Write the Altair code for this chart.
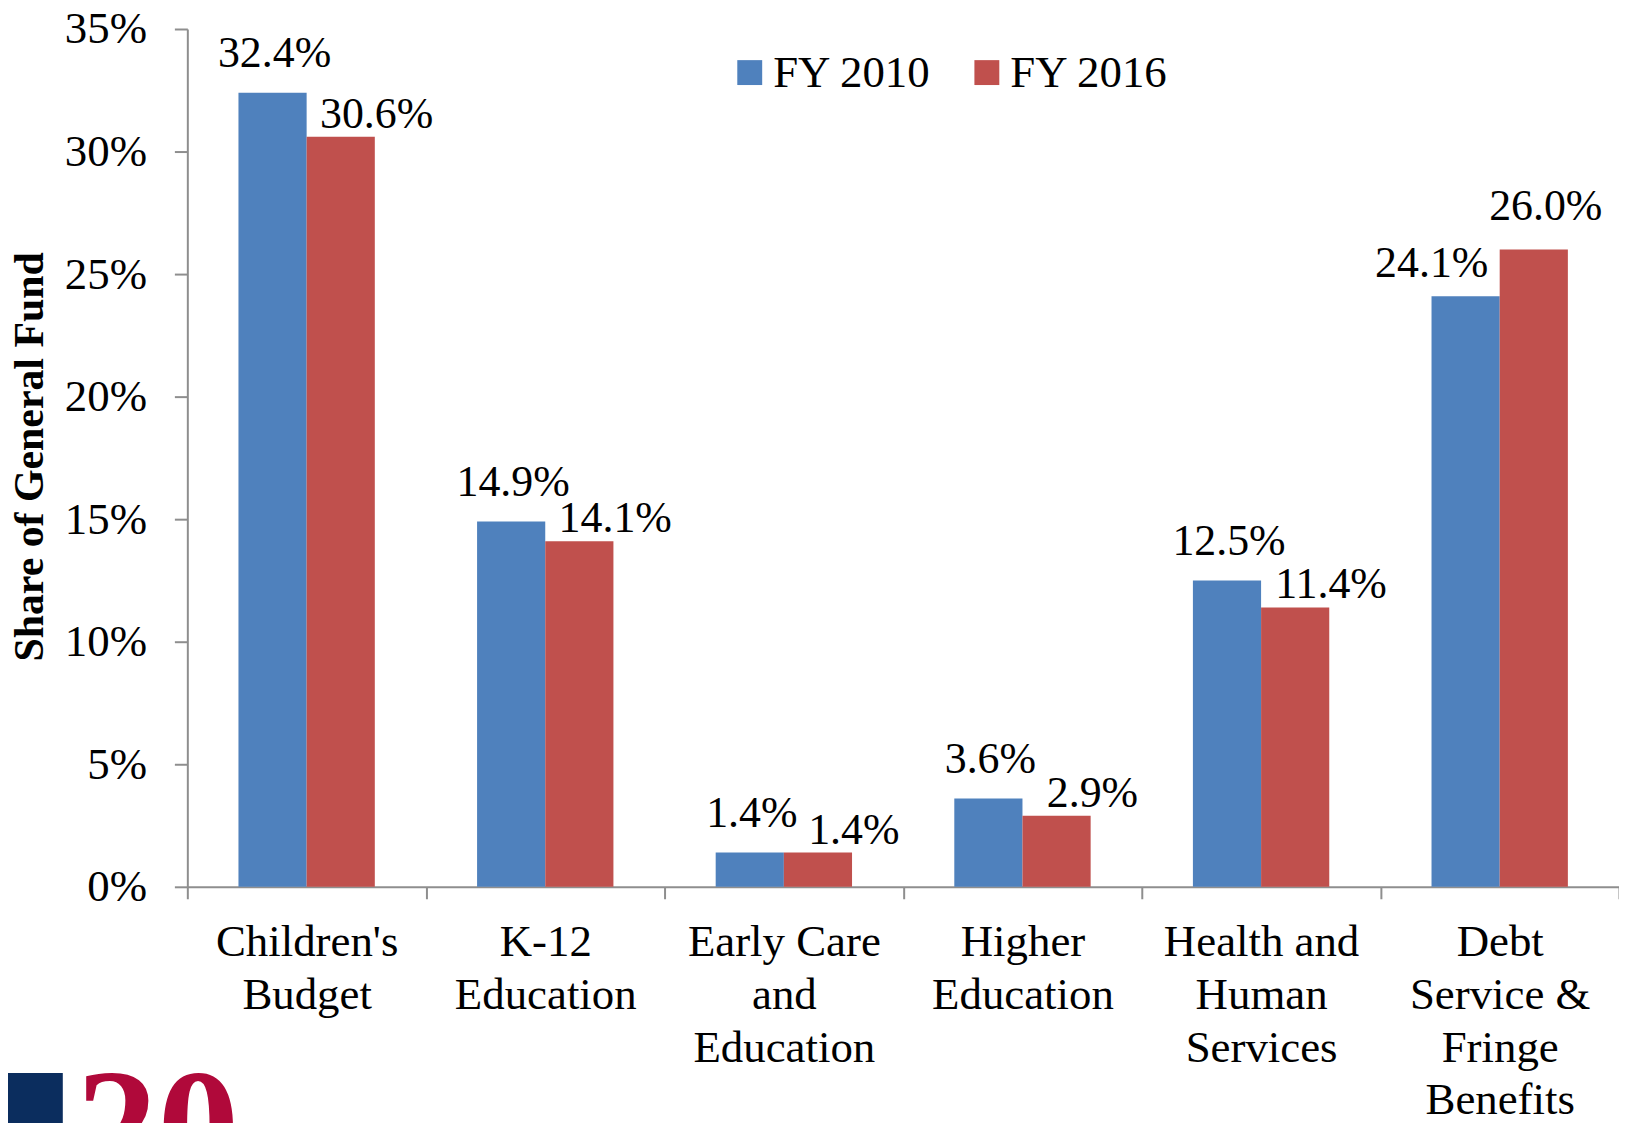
import altair as alt
import pandas as pd

# ---- data ----
categories = [
    "Children's\nBudget",
    "K-12\nEducation",
    "Early Care\nand\nEducation",
    "Higher\nEducation",
    "Health and\nHuman\nServices",
    "Debt\nService &\nFringe\nBenefits",
]
series = ["FY 2010", "FY 2016"]
fy2010 = [32.4, 14.9, 1.4, 3.6, 12.5, 24.1]
fy2016 = [30.6, 14.1, 1.4, 2.9, 11.4, 26.0]
y_ticks = [0, 5, 10, 15, 20, 25, 30, 35]
colors = ["#4F81BD", "#C0504D"]
logo_text = ["20"]

rows = []
for c, a, b in zip(categories, fy2010, fy2016):
    lead = b > a
    rows.append({"category": c, "series": series[0], "value": a, "red_leads": lead})
    rows.append({"category": c, "series": series[1], "value": b, "red_leads": lead})
df = pd.DataFrame(rows)

FONT = "Liberation Serif"
GRAY = "#8E8E8E"
W, H = 1437, 861

base = alt.Chart(df).transform_calculate(
    label="format(datum.value, '.1f') + '%'"
).encode(
    x=alt.X(
        "category:N",
        sort=categories,
        scale=alt.Scale(paddingInner=0, paddingOuter=0),
        axis=alt.Axis(
            title=None,
            labelExpr="split(datum.label, '\\n')",
            labelFont=FONT,
            labelFontSize=45,
            labelLineHeight=53,
            labelColor="black",
            labelPadding=21,
            labelBaseline="top",
            labelAngle=0,
            labelAlign="center",
            labelLimit=0,
            labelOverlap=False,
            tickSize=12,
            tickBand="extent",
            tickColor=GRAY,
            tickWidth=2,
            domainColor=GRAY,
            domainWidth=2,
            grid=False,
        ),
    ),
    xOffset=alt.XOffset(
        "series:N", sort=series, scale=alt.Scale(paddingOuter=0.75, paddingInner=0)
    ),
    y=alt.Y(
        "value:Q",
        scale=alt.Scale(domain=[0, 35], nice=False, zero=True),
        axis=alt.Axis(
            values=y_ticks,
            labelExpr="datum.value + '%'",
            labelFont=FONT,
            labelFontSize=45,
            labelColor="black",
            labelPadding=28,
            labelBaseline="middle",
            tickSize=13,
            tickColor=GRAY,
            tickWidth=2,
            domainColor=GRAY,
            domainWidth=2,
            grid=False,
            title="Share of General Fund",
            titleFont=FONT,
            titleFontSize=42,
            titleFontWeight="bold",
            titleColor="black",
            titleAngle=270,
            titleX=-145,
            titleY=429,
            titleAlign="center",
            titleBaseline="alphabetic",
        ),
    ),
)

bars = base.mark_bar().encode(
    color=alt.Color(
        "series:N",
        scale=alt.Scale(domain=series, range=colors),
        legend=alt.Legend(
            title=None,
            orient="none",
            legendX=542,
            legendY=21,
            direction="horizontal",
            symbolType="square",
            symbolSize=625,
            symbolStrokeWidth=0,
            labelFont=FONT,
            labelFontSize=45,
            labelColor="black",
            labelOffset=1,
            labelLimit=400,
            columnPadding=33,
            padding=0,
        ),
    )
)


def labels(ser, lead, dx, dy):
    return base.mark_text(
        font=FONT, fontSize=44, color="black", baseline="alphabetic", align="center", dx=dx, dy=dy
    ).encode(text="label:N").transform_filter(
        f"datum.series == '{ser}' && datum.red_leads == {str(lead).lower()}"
    )


text_layers = [
    labels(series[0], False, 2, -26),
    labels(series[0], True, -34, -19),
    labels(series[1], False, 36, -9),
    labels(series[1], True, 12, -30),
]

logo_df = pd.DataFrame({"t": logo_text})
logo_box = alt.Chart(logo_df).mark_rect(color="#0B2D5E").encode(
    x=alt.value(-180), x2=alt.value(-125), y=alt.value(1048), y2=alt.value(1100)
)
logo_num = alt.Chart(logo_df).mark_text(
    font=FONT, fontSize=164, fontWeight="bold", color="#B0093A", align="left", baseline="alphabetic"
).encode(x=alt.value(-112), y=alt.value(1156), text="t:N")

chart = alt.layer(bars, *text_layers, logo_box, logo_num).properties(
    width=W,
    height=H,
    autosize=alt.AutoSizeParams(type="none"),
    padding={"left": 180, "top": 19, "right": 0, "bottom": 235},
    background="white",
).configure_view(stroke=None)

chart.save("out.html", embed_options={"renderer": "svg", "actions": False})
